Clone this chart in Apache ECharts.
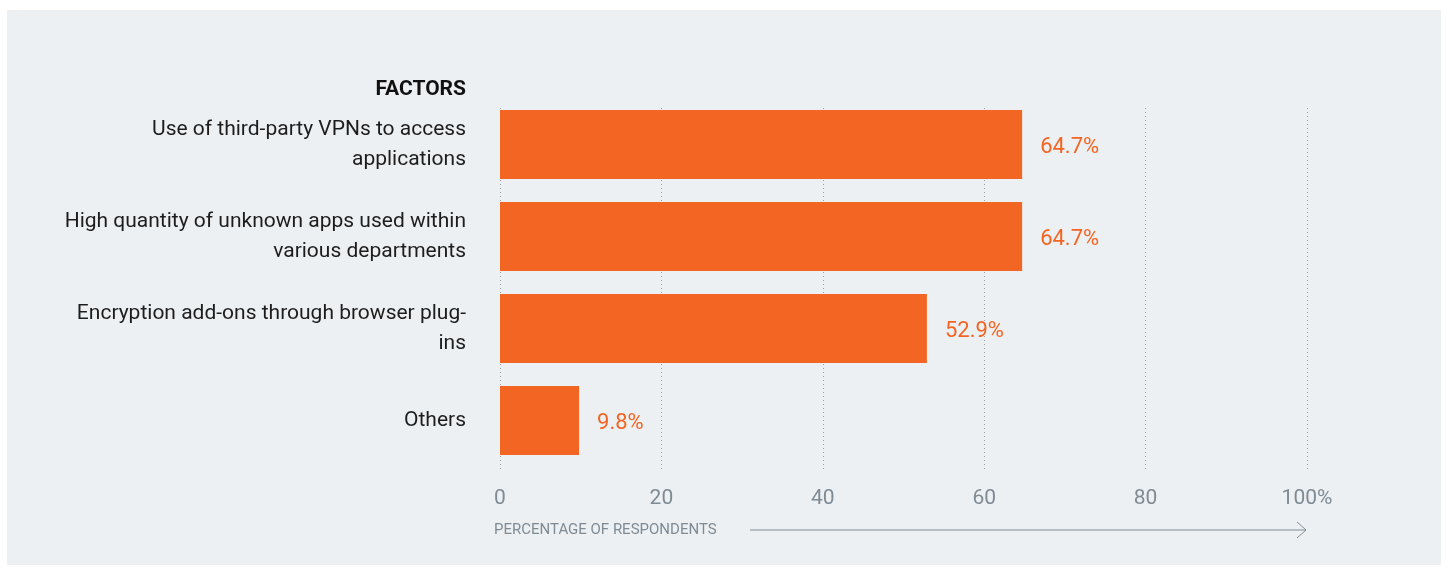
<!DOCTYPE html>
<html>
<head>
<meta charset="utf-8">
<script src="https://cdn.jsdelivr.net/npm/echarts@6/dist/echarts.min.js"></script>
<style>
  html, body { margin: 0; padding: 0; background: #ffffff; }
  #panel { position: absolute; left: 7px; top: 10px; width: 1434px; height: 555px; background: #edf0f3; }
  #chart { position: absolute; left: 0; top: 0; width: 1448px; height: 572px; }
</style>
</head>
<body>
<div id="panel"></div>
<div id="chart"></div>
<script>
const categories = [
  'Use of third-party VPNs to access\napplications',
  'High quantity of unknown apps used within\nvarious departments',
  'Encryption add-ons through browser plug-\nins',
  'Others'
];
const values = [64.7, 64.7, 52.9, 9.8];
const tickLabels = ['0', '20', '40', '60', '80', '100%'];
const axisTitle = 'PERCENTAGE OF RESPONDENTS';
const categoryTitle = 'FACTORS';

const FONT = '"Liberation Sans Narrow", "Roboto", sans-serif';
const GRAY = '#7f8b94';
const ORANGE = '#f36523';

const chart = echarts.init(document.getElementById('chart'), null, { renderer: 'canvas' });
chart.setOption({
  backgroundColor: 'transparent',
  animation: false,
  grid: [
    { left: 500, width: 807, top: 98.5, height: 368 },
    { left: 500, width: 807, top: 108, height: 362 }
  ],
  xAxis: [
    { gridIndex: 0, type: 'value', min: 0, max: 100, show: false },
    {
      gridIndex: 1, type: 'value', min: 0, max: 100, interval: 20,
      axisLine: { show: false }, axisTick: { show: false },
      splitLine: { show: true, lineStyle: { color: '#9aa3ab', type: [1, 3], width: 1 } },
      axisLabel: {
        margin: 18, color: GRAY, fontFamily: FONT, fontSize: 21,
        formatter: function (v) { return tickLabels[Math.round(v / 20)]; }
      }
    }
  ],
  yAxis: [
    {
      gridIndex: 0, type: 'category', data: categories, inverse: true,
      axisLine: { show: false }, axisTick: { show: false }, splitLine: { show: false },
      axisLabel: { margin: 34, color: '#1d1d1d', fontFamily: FONT, fontSize: 21, lineHeight: 30, align: 'right', padding: [6, 0, 0, 0] }
    },
    { gridIndex: 1, type: 'value', show: false }
  ],
  series: [{
    type: 'bar', xAxisIndex: 0, yAxisIndex: 0, data: values,
    barWidth: 69,
    itemStyle: { color: ORANGE },
    label: {
      show: true, position: 'right', distance: 18, color: ORANGE,
      fontFamily: FONT, fontSize: 22, offset: [0, 3],
      formatter: function (p) { return p.value.toFixed(1) + '%'; }
    }
  }],
  graphic: [
    { type: 'text', right: 1448 - 466, top: 79,
      style: { text: categoryTitle, fill: '#111111', font: 'bold 21px ' + FONT, textAlign: 'right' } },
    { type: 'text', left: 494, top: 523,
      style: { text: axisTitle, fill: GRAY, font: '15px ' + FONT } },
    { type: 'line', shape: { x1: 750, y1: 530, x2: 1306, y2: 530 }, style: { stroke: GRAY, lineWidth: 1 } },
    { type: 'polyline', shape: { points: [[1297, 522], [1306, 530], [1297, 538]] }, style: { stroke: GRAY, lineWidth: 1, fill: null } }
  ]
});
</script>
</body>
</html>
